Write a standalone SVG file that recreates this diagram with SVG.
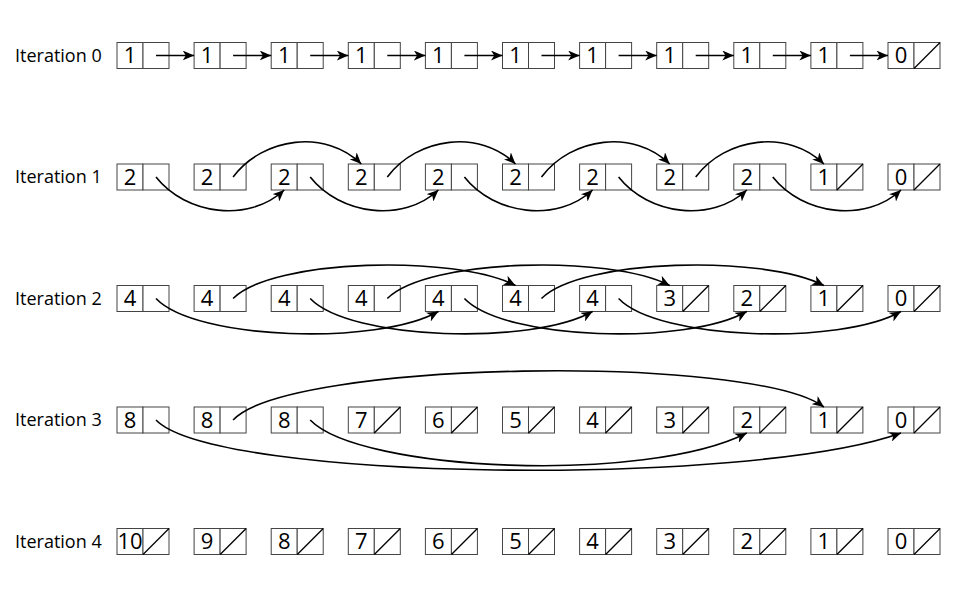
<svg xmlns="http://www.w3.org/2000/svg" width="960" height="608" viewBox="0 0 960 608">
<style>
.c{fill:#fff;stroke:#444;stroke-width:1}
.s{stroke:#000;stroke-width:1.3}
.v{font-family:"Open Sans","Noto Sans",sans-serif;font-size:22px;text-anchor:middle;fill:#000}
.lbl{font-family:"Open Sans","Noto Sans",sans-serif;font-size:18px;fill:#000}
.a{fill:none;stroke:#000;stroke-width:1.6;marker-end:url(#ah)}
</style>
<defs>
<marker id="ah" markerWidth="12" markerHeight="10" refX="11.5" refY="5" orient="auto" markerUnits="userSpaceOnUse"><path d="M0,0 L11.5,5 L0,10 L3.2,5 Z" fill="#000"/></marker>
<g id="cell"><rect class="c" width="26" height="26"/><rect class="c" x="26" width="26" height="26"/></g>
<line id="sl" class="s" x1="26" y1="26" x2="52" y2="0"/>
</defs>
<g id="labels">
<text class="lbl" x="15" y="61.5">Iteration 0</text>
<text class="lbl" x="15" y="183">Iteration 1</text>
<text class="lbl" x="15" y="304.5">Iteration 2</text>
<text class="lbl" x="15" y="426">Iteration 3</text>
<text class="lbl" x="15" y="547.5">Iteration 4</text>
</g>
<!-- Row 0 -->
<g id="r0n0" transform="translate(117,42.5)"><use href="#cell"/><text class="v" x="13" y="20.5">1</text></g>
<g id="r0n1" transform="translate(194.1,42.5)"><use href="#cell"/><text class="v" x="13" y="20.5">1</text></g>
<g id="r0n2" transform="translate(271.2,42.5)"><use href="#cell"/><text class="v" x="13" y="20.5">1</text></g>
<g id="r0n3" transform="translate(348.3,42.5)"><use href="#cell"/><text class="v" x="13" y="20.5">1</text></g>
<g id="r0n4" transform="translate(425.4,42.5)"><use href="#cell"/><text class="v" x="13" y="20.5">1</text></g>
<g id="r0n5" transform="translate(502.5,42.5)"><use href="#cell"/><text class="v" x="13" y="20.5">1</text></g>
<g id="r0n6" transform="translate(579.6,42.5)"><use href="#cell"/><text class="v" x="13" y="20.5">1</text></g>
<g id="r0n7" transform="translate(656.7,42.5)"><use href="#cell"/><text class="v" x="13" y="20.5">1</text></g>
<g id="r0n8" transform="translate(733.8,42.5)"><use href="#cell"/><text class="v" x="13" y="20.5">1</text></g>
<g id="r0n9" transform="translate(810.9,42.5)"><use href="#cell"/><text class="v" x="13" y="20.5">1</text></g>
<g id="r0n10" transform="translate(888,42.5)"><use href="#cell"/><use href="#sl"/><text class="v" x="13" y="20.5">0</text></g>
<!-- Row 1 -->
<g id="r1n0" transform="translate(117,164)"><use href="#cell"/><text class="v" x="13" y="20.5">2</text></g>
<g id="r1n1" transform="translate(194.1,164)"><use href="#cell"/><text class="v" x="13" y="20.5">2</text></g>
<g id="r1n2" transform="translate(271.2,164)"><use href="#cell"/><text class="v" x="13" y="20.5">2</text></g>
<g id="r1n3" transform="translate(348.3,164)"><use href="#cell"/><text class="v" x="13" y="20.5">2</text></g>
<g id="r1n4" transform="translate(425.4,164)"><use href="#cell"/><text class="v" x="13" y="20.5">2</text></g>
<g id="r1n5" transform="translate(502.5,164)"><use href="#cell"/><text class="v" x="13" y="20.5">2</text></g>
<g id="r1n6" transform="translate(579.6,164)"><use href="#cell"/><text class="v" x="13" y="20.5">2</text></g>
<g id="r1n7" transform="translate(656.7,164)"><use href="#cell"/><text class="v" x="13" y="20.5">2</text></g>
<g id="r1n8" transform="translate(733.8,164)"><use href="#cell"/><text class="v" x="13" y="20.5">2</text></g>
<g id="r1n9" transform="translate(810.9,164)"><use href="#cell"/><use href="#sl"/><text class="v" x="13" y="20.5">1</text></g>
<g id="r1n10" transform="translate(888,164)"><use href="#cell"/><use href="#sl"/><text class="v" x="13" y="20.5">0</text></g>
<!-- Row 2 -->
<g id="r2n0" transform="translate(117,285.5)"><use href="#cell"/><text class="v" x="13" y="20.5">4</text></g>
<g id="r2n1" transform="translate(194.1,285.5)"><use href="#cell"/><text class="v" x="13" y="20.5">4</text></g>
<g id="r2n2" transform="translate(271.2,285.5)"><use href="#cell"/><text class="v" x="13" y="20.5">4</text></g>
<g id="r2n3" transform="translate(348.3,285.5)"><use href="#cell"/><text class="v" x="13" y="20.5">4</text></g>
<g id="r2n4" transform="translate(425.4,285.5)"><use href="#cell"/><text class="v" x="13" y="20.5">4</text></g>
<g id="r2n5" transform="translate(502.5,285.5)"><use href="#cell"/><text class="v" x="13" y="20.5">4</text></g>
<g id="r2n6" transform="translate(579.6,285.5)"><use href="#cell"/><text class="v" x="13" y="20.5">4</text></g>
<g id="r2n7" transform="translate(656.7,285.5)"><use href="#cell"/><use href="#sl"/><text class="v" x="13" y="20.5">3</text></g>
<g id="r2n8" transform="translate(733.8,285.5)"><use href="#cell"/><use href="#sl"/><text class="v" x="13" y="20.5">2</text></g>
<g id="r2n9" transform="translate(810.9,285.5)"><use href="#cell"/><use href="#sl"/><text class="v" x="13" y="20.5">1</text></g>
<g id="r2n10" transform="translate(888,285.5)"><use href="#cell"/><use href="#sl"/><text class="v" x="13" y="20.5">0</text></g>
<!-- Row 3 -->
<g id="r3n0" transform="translate(117,407)"><use href="#cell"/><text class="v" x="13" y="20.5">8</text></g>
<g id="r3n1" transform="translate(194.1,407)"><use href="#cell"/><text class="v" x="13" y="20.5">8</text></g>
<g id="r3n2" transform="translate(271.2,407)"><use href="#cell"/><text class="v" x="13" y="20.5">8</text></g>
<g id="r3n3" transform="translate(348.3,407)"><use href="#cell"/><use href="#sl"/><text class="v" x="13" y="20.5">7</text></g>
<g id="r3n4" transform="translate(425.4,407)"><use href="#cell"/><use href="#sl"/><text class="v" x="13" y="20.5">6</text></g>
<g id="r3n5" transform="translate(502.5,407)"><use href="#cell"/><use href="#sl"/><text class="v" x="13" y="20.5">5</text></g>
<g id="r3n6" transform="translate(579.6,407)"><use href="#cell"/><use href="#sl"/><text class="v" x="13" y="20.5">4</text></g>
<g id="r3n7" transform="translate(656.7,407)"><use href="#cell"/><use href="#sl"/><text class="v" x="13" y="20.5">3</text></g>
<g id="r3n8" transform="translate(733.8,407)"><use href="#cell"/><use href="#sl"/><text class="v" x="13" y="20.5">2</text></g>
<g id="r3n9" transform="translate(810.9,407)"><use href="#cell"/><use href="#sl"/><text class="v" x="13" y="20.5">1</text></g>
<g id="r3n10" transform="translate(888,407)"><use href="#cell"/><use href="#sl"/><text class="v" x="13" y="20.5">0</text></g>
<!-- Row 4 -->
<g id="r4n0" transform="translate(117,528.5)"><use href="#cell"/><use href="#sl"/><text class="v" x="13" y="20.5">10</text></g>
<g id="r4n1" transform="translate(194.1,528.5)"><use href="#cell"/><use href="#sl"/><text class="v" x="13" y="20.5">9</text></g>
<g id="r4n2" transform="translate(271.2,528.5)"><use href="#cell"/><use href="#sl"/><text class="v" x="13" y="20.5">8</text></g>
<g id="r4n3" transform="translate(348.3,528.5)"><use href="#cell"/><use href="#sl"/><text class="v" x="13" y="20.5">7</text></g>
<g id="r4n4" transform="translate(425.4,528.5)"><use href="#cell"/><use href="#sl"/><text class="v" x="13" y="20.5">6</text></g>
<g id="r4n5" transform="translate(502.5,528.5)"><use href="#cell"/><use href="#sl"/><text class="v" x="13" y="20.5">5</text></g>
<g id="r4n6" transform="translate(579.6,528.5)"><use href="#cell"/><use href="#sl"/><text class="v" x="13" y="20.5">4</text></g>
<g id="r4n7" transform="translate(656.7,528.5)"><use href="#cell"/><use href="#sl"/><text class="v" x="13" y="20.5">3</text></g>
<g id="r4n8" transform="translate(733.8,528.5)"><use href="#cell"/><use href="#sl"/><text class="v" x="13" y="20.5">2</text></g>
<g id="r4n9" transform="translate(810.9,528.5)"><use href="#cell"/><use href="#sl"/><text class="v" x="13" y="20.5">1</text></g>
<g id="r4n10" transform="translate(888,528.5)"><use href="#cell"/><use href="#sl"/><text class="v" x="13" y="20.5">0</text></g>
<g id="connectors">
<path class="a" d="M156,55.5 H194.1"/>
<path class="a" d="M233.1,55.5 H271.2"/>
<path class="a" d="M310.2,55.5 H348.3"/>
<path class="a" d="M387.3,55.5 H425.4"/>
<path class="a" d="M464.4,55.5 H502.5"/>
<path class="a" d="M541.5,55.5 H579.6"/>
<path class="a" d="M618.6,55.5 H656.7"/>
<path class="a" d="M695.7,55.5 H733.8"/>
<path class="a" d="M772.8,55.5 H810.9"/>
<path class="a" d="M849.9,55.5 H888"/>
<path class="a" d="M156,177 c30,38 93,46 128.2,13"/>
<path class="a" d="M310.2,177 c30,38 93,46 128.2,13"/>
<path class="a" d="M464.4,177 c30,38 93,46 128.2,13"/>
<path class="a" d="M618.6,177 c30,38 93,46 128.2,13"/>
<path class="a" d="M772.8,177 c30,38 93,46 128.2,13"/>
<path class="a" d="M233.1,177 c30,-40 93,-48 128.2,-13"/>
<path class="a" d="M387.3,177 c30,-40 93,-48 128.2,-13"/>
<path class="a" d="M541.5,177 c30,-40 93,-48 128.2,-13"/>
<path class="a" d="M695.7,177 c30,-40 93,-48 128.2,-13"/>
<path class="a" d="M156,298.5 c40,42 222,47 282.4,13"/>
<path class="a" d="M310.2,298.5 c40,42 222,47 282.4,13"/>
<path class="a" d="M464.4,298.5 c40,42 222,47 282.4,13"/>
<path class="a" d="M618.6,298.5 c40,42 222,47 282.4,13"/>
<path class="a" d="M233.1,298.5 c40,-40 222,-44 282.4,-13"/>
<path class="a" d="M387.3,298.5 c40,-40 222,-44 282.4,-13"/>
<path class="a" d="M541.5,298.5 c40,-40 222,-44 282.4,-13"/>
<path class="a" d="M156,420 c60,62 595,67 745,13"/>
<path class="a" d="M310.2,420 c50,52 336,64 436.6,13"/>
<path class="a" d="M233.1,420 c55,-60 520,-66 590.8,-13"/>
</g>
</svg>
